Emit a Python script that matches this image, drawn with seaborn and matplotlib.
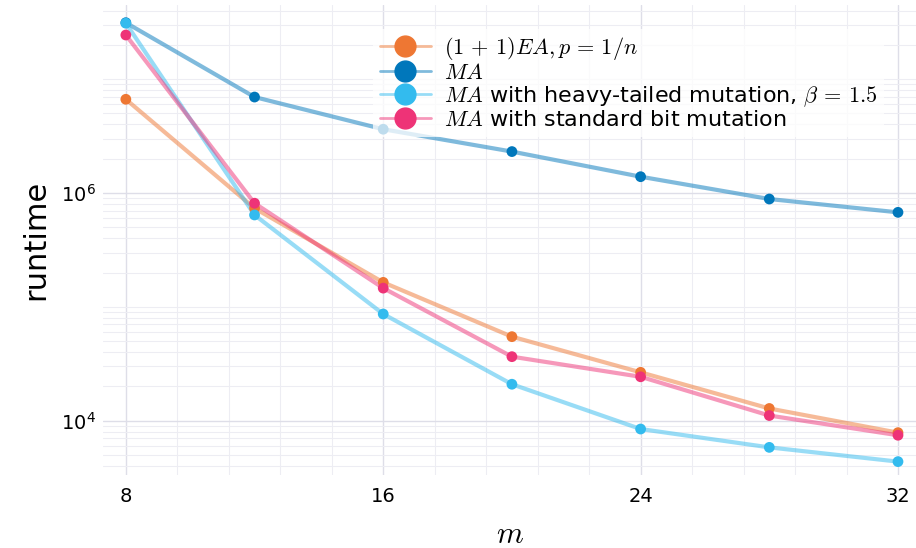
import numpy as np
import pandas as pd
import matplotlib
matplotlib.use("Agg")
import matplotlib.pyplot as plt
import seaborn as sns
from matplotlib.lines import Line2D
from matplotlib.legend_handler import HandlerTuple
from matplotlib.ticker import FixedLocator, MultipleLocator, LogLocator, LogFormatterSciNotation, NullFormatter

# Data
m_values = [8, 12, 16, 20, 24, 28, 32]
runtime_ea = [6.65e6, 7.34e5, 1.64e5, 5.47e4, 2.66e4, 1.28e4, 7.85e3]
runtime_ma = [3.13e7, 6.96e6, 3.63e6, 2.31e6, 1.39e6, 8.85e5, 6.76e5]
runtime_heavy = [3.10e7, 6.41e5, 8.65e4, 2.09e4, 8.45e3, 5.83e3, 4.37e3]
runtime_standard = [2.44e7, 8.13e5, 1.46e5, 3.65e4, 2.43e4, 1.11e4, 7.45e3]

series_names = [
    r"$(1\,+\,1)EA, p\,=\,1/n$",
    r"$MA$",
    r"$MA$ with heavy-tailed mutation, $\beta\,=\,1.5$",
    r"$MA$ with standard bit mutation",
]
series_colors = ["#EE7733", "#0077BB", "#33BBEE", "#EE3377"]

df = pd.DataFrame({
    "m": m_values * 4,
    "runtime": runtime_ea + runtime_ma + runtime_heavy + runtime_standard,
    "algo": sum([[n] * len(m_values) for n in series_names], []),
})

sns.set_style("white")
plt.rcParams["font.family"] = ["DejaVu Sans"]
plt.rcParams["mathtext.fontset"] = "cm"
plt.rcParams["text.color"] = "black"
plt.rcParams["axes.labelcolor"] = "black"
plt.rcParams["xtick.color"] = "black"
plt.rcParams["ytick.color"] = "black"

fig = plt.figure(figsize=(9.16, 5.48), dpi=100)
ax = fig.add_axes([103 / 916, 1 - 475 / 548, 813 / 916, 470 / 548])

palette = dict(zip(series_names, series_colors))
sns.lineplot(data=df, x="m", y="runtime", hue="algo", palette=palette,
             linewidth=3, alpha=0.5, legend=False, ax=ax, zorder=2)
sns.scatterplot(data=df, x="m", y="runtime", hue="algo", palette=palette,
                s=60, edgecolor="none", legend=False, ax=ax, zorder=3)

ax.set_yscale("log")
ax.set_xlim(7.29, 32.56)
ax.set_ylim(10 ** 3.523, 10 ** 7.651)

ax.xaxis.set_major_locator(FixedLocator([8, 16, 24, 32]))
ax.xaxis.set_minor_locator(MultipleLocator(1.6))
ax.yaxis.set_major_locator(FixedLocator([1e4, 1e6]))
ax.yaxis.set_major_formatter(LogFormatterSciNotation())
ax.yaxis.set_minor_locator(LogLocator(base=10, subs=np.arange(1, 10), numticks=20))
ax.yaxis.set_minor_formatter(NullFormatter())

ax.grid(which="major", color="#dedee8", linewidth=1.0)
ax.grid(which="minor", color="#ededf3", linewidth=0.8)
ax.set_axisbelow(True)
ax.tick_params(which="both", length=0)
ax.tick_params(axis="x", labelsize=14, pad=9)
ax.tick_params(axis="y", labelsize=14, pad=5)
for s in ax.spines.values():
    s.set_visible(False)

ax.set_xlabel(r"$m$", fontsize=22, labelpad=10)
ax.set_ylabel("runtime", fontsize=22, labelpad=8)

handles = []
for c in series_colors:
    ln = Line2D([], [], color=c, linewidth=2, alpha=0.5)
    mk = Line2D([], [], color=c, marker="o", markersize=15, linestyle="none")
    handles.append((ln, mk))
leg = ax.legend(handles, series_names, handler_map={tuple: HandlerTuple(ndivide=1)},
                loc="upper left", bbox_to_anchor=(0.332, 0.95), fontsize=16,
                frameon=True, facecolor="white", edgecolor="none", framealpha=0.75,
                handlelength=2.3, handletextpad=0.6, labelspacing=0.05,
                borderpad=0.3, borderaxespad=0)

fig.savefig("out.png", dpi=100)
